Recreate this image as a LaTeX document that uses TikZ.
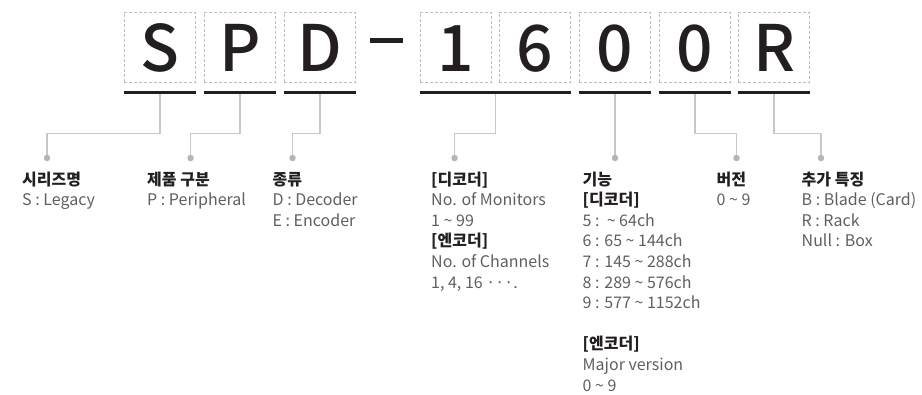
\documentclass[tikz,border=0pt]{standalone}
\usepackage{fontspec}
\setmainfont{Noto Sans CJK KR}
\newfontfamily\medfont{Noto Sans CJK KR Medium}
\usepackage{tikz}
\usetikzlibrary{calc}
\definecolor{ink}{HTML}{231F20}
\definecolor{boxgray}{HTML}{BDBDBD}
\definecolor{linkgray}{HTML}{C8C8C8}
\definecolor{dotgray}{HTML}{B4B4B9}
\definecolor{textgray}{HTML}{5F5F5F}
\tikzset{
  codebox/.style={draw=boxgray, dash pattern=on 3pt off 2pt, line width=0.8pt,
    minimum width=71.5pt, minimum height=70pt, inner sep=0pt},
  letter/.style={text=ink, font=\fontsize{64}{64}\selectfont\medfont, inner sep=0pt,
    text height=43pt, text depth=0pt},
  bar/.style={draw=ink, line width=3pt},
  link/.style={draw=linkgray, line width=1.1pt},
  dot/.style={circle, fill=dotgray, minimum size=6.5pt, inner sep=0pt},
  info/.style={anchor=base west, inner sep=0pt, text=textgray,
    font=\fontsize{16}{20.6}\selectfont},
}
\newcommand{\hd}[1]{\textbf{\textcolor{ink}{#1}}}
\newcommand{\tl}{\textasciitilde}
\newcommand{\col}[1]{\begin{tabular}[t]{@{}l@{}}#1\end{tabular}}

\begin{document}
\begin{tikzpicture}[x=1pt, y=-1pt]
            \useasboundingbox (0,0) rectangle (922,394);

            \node[codebox] (bS) at (160,47) {};
            \node[codebox] (bP) at (240,47) {};
            \node[codebox] (bD) at (320,47) {};
            \node[codebox] (b1) at (456,47) {};
            \node[codebox] (b6) at (535,47) {};
            \node[codebox] (b0a) at (615,47) {};
            \node[codebox] (b0b) at (695,47) {};
            \node[codebox] (bR) at (774,47) {};

            \node[letter] (lS) at ([yshift=-2.5pt]bS.center) {S};
            \node[letter] (lP) at ([yshift=-2.5pt]bP.center) {P};
            \node[letter] (lD) at ([yshift=-2.5pt]bD.center) {D};
            \node[letter] (l1) at ([yshift=-2.5pt]b1.center) {1};
            \node[letter] (l6) at ([yshift=-2.5pt]b6.center) {6};
            \node[letter] (l0a) at ([yshift=-2.5pt]b0a.center) {0};
            \node[letter] (l0b) at ([yshift=-2.5pt]b0b.center) {0};
            \node[letter] (lR) at ([yshift=-2.5pt]bR.center) {R};

            \node[fill=ink, minimum width=33pt, minimum height=5.5pt, inner sep=0pt] (hyph) at (386,40.5) {};

            \draw[bar] ([yshift=-10pt]bS.south west) -- ([yshift=-10pt]bS.south east);
            \draw[bar] ([yshift=-10pt]bP.south west) -- ([yshift=-10pt]bP.south east);
            \draw[bar] ([yshift=-10pt]bD.south west) -- ([yshift=-10pt]bD.south east);
            \draw[bar] ([yshift=-10pt]b1.south west) -- ([yshift=-10pt]b6.south east);
            \draw[bar] ([yshift=-10pt]b0a.south west) -- ([yshift=-10pt]b0a.south east);
            \draw[bar] ([yshift=-10pt]b0b.south west) -- ([yshift=-10pt]b0b.south east);
            \draw[bar] ([yshift=-10pt]bR.south west) -- ([yshift=-10pt]bR.south east);

            \coordinate (uS) at ([yshift=-11.5pt]bS.south);
            \coordinate (uP) at ([yshift=-11.5pt]bP.south);
            \coordinate (uD) at ([yshift=-11.5pt]bD.south);
            \coordinate (u16) at ($(b1.south)!0.5!(b6.south)+(0,11.5)$);
            \coordinate (u0a) at ([yshift=-11.5pt]b0a.south);
            \coordinate (u0b) at ([yshift=-11.5pt]b0b.south);
            \coordinate (uR) at ([yshift=-11.5pt]bR.south);

            \node[dot] (dS) at (47,158) {};
            \node[dot] (dP) at (190.5,158) {};
            \node[dot] (dD) at (292.5,158) {};
            \node[dot] (d16) at (454.5,158) {};
            \node[dot] (d0a) at (615,158) {};
            \node[dot] (d0b) at (736.5,158) {};
            \node[dot] (dR) at (821,158) {};

            \draw[link] (uS) -- ++(0,39.5) -| (dS);
            \draw[link] (uP) -- ++(0,39.5) -| (dP);
            \draw[link] (uD) -- ++(0,39.5) -| (dD);
            \draw[link] (u16) -- ++(0,39.5) -| (d16);
            \draw[link] (u0a) -- (d0a);
            \draw[link] (u0b) -- ++(0,39.5) -| (d0b);
            \draw[link] (uR) -- ++(0,39.5) -| (dR);

            \node[info] (tS) at (22,185) {\col{\hd{시리즈명}\\S : Legacy}};
            \node[info] (tP) at (147,185) {\col{\hd{제품 구분}\\P : Peripheral}};
            \node[info] (tD) at (272.5,185) {\col{\hd{종류}\\D : Decoder\\E : Encoder}};
            \node[info] (t16) at (431,185) {\col{\hd{[디코더]}\\No. of Monitors\\1 \tl{} 99\\\hd{[엔코더]}\\No. of Channels\\1, 4, 16 \textperiodcentered\textperiodcentered\textperiodcentered.}};
            \node[info] (t0a) at (582.5,185) {\col{\hd{기능}\\\hd{[디코더]}\\5 :\ \ \tl{} 64ch\\6 : 65 \tl{} 144ch\\7 : 145 \tl{} 288ch\\8 : 289 \tl{} 576ch\\9 : 577 \tl{} 1152ch\\[20.6pt]\hd{[엔코더]}\\Major version\\0 \tl{} 9}};
            \node[info] (t0b) at (716.5,185) {\col{\hd{버전}\\0 \tl{} 9}};
            \node[info] (tR) at (801.5,185) {\col{\hd{추가 특징}\\B : Blade (Card)\\R : Rack\\Null : Box}};
        \end{tikzpicture}
\end{document}
